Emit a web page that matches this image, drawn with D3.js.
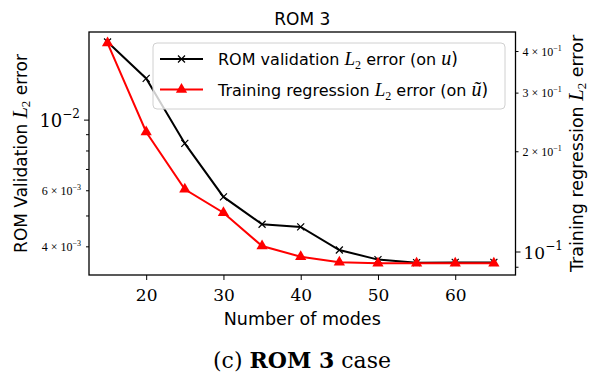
<!DOCTYPE html>
<html>
<head>
<meta charset="utf-8">
<script src="https://cdn.jsdelivr.net/npm/d3@7"></script>
<style>
  html, body { margin: 0; padding: 0; background: #fff; }
  svg { display: block; }
  .sans { font-family: "DejaVu Sans", sans-serif; }
  .serif { font-family: "DejaVu Serif", "Liberation Serif", serif; }
  .lserif { font-family: "Liberation Serif", "DejaVu Serif", serif; }
</style>
</head>
<body>
<svg id="chart" width="589" height="382"></svg>
<script>
// Number of POD modes retained in the ROM
const modes = [15, 20, 25, 30, 35, 40, 45, 50, 55, 60, 65];
// ROM validation L2 error on u (left axis)
const validationError = [0.01759, 0.01352, 0.00845, 0.005738, 0.00471, 0.004619, 0.003909, 0.003647, 0.003568, 0.003574, 0.003574];
// Training regression L2 error on u~ (right axis)
const trainingError = [0.4242, 0.2293, 0.1543, 0.1312, 0.1042, 0.0968, 0.0931, 0.0925, 0.0925, 0.0925, 0.0925];

const xTicks = [20, 30, 40, 50, 60];
const leftMajor = [0.01];
const leftMinorLabeled = [0.004, 0.006];
const leftMinor = [0.004, 0.005, 0.006, 0.007, 0.008, 0.009];
const rightMajor = [0.1];
const rightMinorLabeled = [0.2, 0.3, 0.4];
const rightMinor = [0.09, 0.2, 0.3, 0.4];

const svg = d3.select("#chart");
const plot = { left: 89, right: 515.5, top: 32, bottom: 275 };

const x = d3.scaleLinear().domain([12.6, 67.8]).range([plot.left, plot.right]);
const yL = d3.scaleLog().domain([0.003263, 0.01891]).range([plot.bottom, plot.top]);
const yR = d3.scaleLog().domain([0.0853, 0.4578]).range([plot.bottom, plot.top]);

const g = svg.append("g");

function expLabel(sel, mant, exp, big) {
  // writes "m × 10^e" or "10^e" as text with a raised exponent
  if (mant !== null) sel.append("tspan").text(mant + " \u00d7 ");
  sel.append("tspan").text("10");
  sel.append("tspan").attr("dy", big ? -9 : -5).attr("font-size", big ? 12 : 8).text("\u2212" + exp);
}

// x axis
const xAxis = g.append("g").attr("transform", `translate(0,${plot.bottom})`)
  .call(d3.axisBottom(x).tickValues(xTicks).tickSize(5).tickPadding(5).tickFormat(d3.format("d")));
xAxis.select(".domain").remove();
xAxis.selectAll("line").attr("stroke", "#000").attr("stroke-width", 1);
xAxis.selectAll("text").attr("class", "serif").attr("font-size", 17).attr("fill", "#000").attr("dy", "0.95em");

// left axis ticks
const lAxis = g.append("g").attr("transform", `translate(${plot.left},0)`);
lAxis.selectAll("line.maj").data(leftMajor).join("line")
  .attr("x1", -5).attr("x2", 0).attr("y1", d => yL(d)).attr("y2", d => yL(d)).attr("stroke", "#000");
lAxis.selectAll("line.min").data(leftMinor).join("line")
  .attr("x1", -3).attr("x2", 0).attr("y1", d => yL(d)).attr("y2", d => yL(d)).attr("stroke", "#000");
lAxis.selectAll("text.maj").data(leftMajor).join("text")
  .attr("class", "serif").attr("x", -9).attr("y", d => yL(d) + 7).attr("text-anchor", "end")
  .attr("font-size", 18).attr("fill", "#000")
  .each(function () { expLabel(d3.select(this), null, 2, true); });
lAxis.selectAll("text.min").data(leftMinorLabeled).join("text")
  .attr("class", "lserif").attr("x", -8).attr("y", d => yL(d) + 4).attr("text-anchor", "end")
  .attr("font-size", 12).attr("fill", "#000")
  .each(function (d) { expLabel(d3.select(this), Math.round(d * 1000), 3, false); });

// right axis ticks
const rAxis = g.append("g").attr("transform", `translate(${plot.right},0)`);
rAxis.selectAll("line.maj").data(rightMajor).join("line")
  .attr("x1", 0).attr("x2", 5).attr("y1", d => yR(d)).attr("y2", d => yR(d)).attr("stroke", "#000");
rAxis.selectAll("line.min").data(rightMinor).join("line")
  .attr("x1", 0).attr("x2", 3).attr("y1", d => yR(d)).attr("y2", d => yR(d)).attr("stroke", "#000");
rAxis.selectAll("text.maj").data(rightMajor).join("text")
  .attr("class", "serif").attr("x", 8).attr("y", d => yR(d) + 7)
  .attr("font-size", 17).attr("fill", "#000")
  .each(function () { expLabel(d3.select(this), null, 1, true); });
rAxis.selectAll("text.min").data(rightMinorLabeled).join("text")
  .attr("class", "lserif").attr("x", 7).attr("y", d => yR(d) + 4)
  .attr("font-size", 12).attr("fill", "#000")
  .each(function (d) { expLabel(d3.select(this), Math.round(d * 10), 1, false); });

// plot frame
svg.append("rect").attr("x", plot.left).attr("y", plot.top)
  .attr("width", plot.right - plot.left).attr("height", plot.bottom - plot.top)
  .attr("fill", "none").attr("stroke", "#000").attr("stroke-width", 1.3);

// series
const lineL = d3.line().x((d, i) => x(modes[i])).y(d => yL(d));
const lineR = d3.line().x((d, i) => x(modes[i])).y(d => yR(d));

svg.append("path").attr("d", lineL(validationError)).attr("fill", "none")
  .attr("stroke", "#000").attr("stroke-width", 2);
const xMark = 3.5;
svg.append("g").selectAll("path").data(validationError).join("path")
  .attr("d", (d, i) => {
    const cx = x(modes[i]), cy = yL(d);
    return `M${cx - xMark},${cy - xMark}L${cx + xMark},${cy + xMark}M${cx - xMark},${cy + xMark}L${cx + xMark},${cy - xMark}`;
  })
  .attr("stroke", "#000").attr("stroke-width", 1.2);

svg.append("path").attr("d", lineR(trainingError)).attr("fill", "none")
  .attr("stroke", "#ff0000").attr("stroke-width", 2);
const tri = d3.symbol().type(d3.symbolTriangle).size(55);
svg.append("g").selectAll("path").data(trainingError).join("path")
  .attr("transform", (d, i) => `translate(${x(modes[i])},${yR(d)})`)
  .attr("d", tri).attr("fill", "#ff0000");

// legend
const leg = svg.append("g");
leg.append("rect").attr("x", 153).attr("y", 43).attr("width", 352).attr("height", 66)
  .attr("rx", 4).attr("fill", "#fff").attr("fill-opacity", 0.8)
  .attr("stroke", "#d0d0d0").attr("stroke-width", 1);

const legendItems = [
  { color: "#000", marker: "x", pre: "ROM validation ", post: " error (on ", v: "u" },
  { color: "#ff0000", marker: "tri", pre: "Training regression ", post: " error (on ", v: "u\u0303" }
];
legendItems.forEach((it, k) => {
  const ly = 59 + k * 30.5;
  leg.append("line").attr("x1", 160).attr("x2", 203).attr("y1", ly).attr("y2", ly)
    .attr("stroke", it.color).attr("stroke-width", 2);
  if (it.marker === "x") {
    leg.append("path").attr("d", `M${181.5 - xMark},${ly - xMark}L${181.5 + xMark},${ly + xMark}M${181.5 - xMark},${ly + xMark}L${181.5 + xMark},${ly - xMark}`)
      .attr("stroke", "#000").attr("stroke-width", 1.2);
  } else {
    leg.append("path").attr("transform", `translate(181.5,${ly})`).attr("d", tri).attr("fill", it.color);
  }
  const t = leg.append("text").attr("x", 218).attr("y", ly + 6).attr("font-size", 16)
    .attr("class", "sans").attr("fill", "#000");
  t.append("tspan").text(it.pre);
  t.append("tspan").attr("class", "lserif").attr("font-style", "italic").attr("font-size", 19).text("L");
  t.append("tspan").attr("class", "lserif").attr("font-size", 12).attr("dy", 4).text("2");
  t.append("tspan").attr("dy", -4).text(it.post);
  t.append("tspan").attr("class", "lserif").attr("font-style", "italic").attr("font-size", 20).text(it.v);
  t.append("tspan").attr("font-size", 17).text(")");
});

// titles
svg.append("text").attr("class", "sans").attr("x", (plot.left + plot.right) / 2).attr("y", 25)
  .attr("text-anchor", "middle").attr("font-size", 17).attr("fill", "#000").text("ROM 3");

svg.append("text").attr("class", "sans").attr("x", (plot.left + plot.right) / 2).attr("y", 325)
  .attr("text-anchor", "middle").attr("font-size", 17.5).attr("fill", "#000").text("Number of modes");

function axisTitle(xp, label, fs) {
  const t = svg.append("text").attr("class", "sans")
    .attr("transform", `translate(${xp},${(plot.top + plot.bottom) / 2}) rotate(-90)`)
    .attr("text-anchor", "middle").attr("font-size", fs).attr("fill", "#000");
  t.append("tspan").text(label + " ");
  t.append("tspan").attr("class", "lserif").attr("font-style", "italic").attr("font-size", fs + 3).text("L");
  t.append("tspan").attr("class", "lserif").attr("font-size", 13).attr("dy", 3).text("2");
  t.append("tspan").attr("dy", -3).text(" error");
}
axisTitle(27, "ROM Validation", 17);
axisTitle(583, "Training regression", 17.5);

// caption
const cap = svg.append("text").attr("class", "serif").attr("x", 302).attr("y", 368)
  .attr("text-anchor", "middle").attr("font-size", 22).attr("fill", "#000");
cap.append("tspan").text("(c) ");
cap.append("tspan").attr("font-weight", "bold").text("ROM 3");
cap.append("tspan").text(" case");
</script>
</body>
</html>
